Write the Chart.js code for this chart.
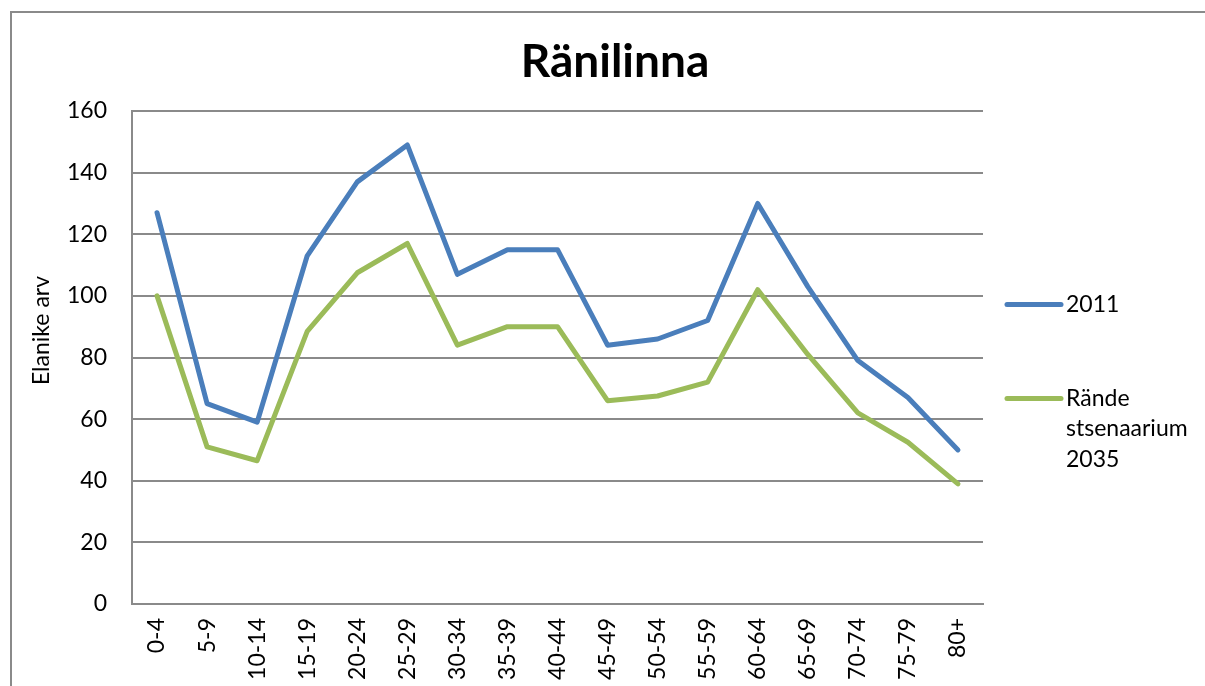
<!DOCTYPE html>
<html>
<head>
<meta charset="utf-8">
<script src="https://cdn.jsdelivr.net/npm/chart.js@4.4.1/dist/chart.umd.min.js"></script>
<style>
  html, body { margin: 0; padding: 0; background: #fff; overflow: hidden; }
  #frame {
    position: absolute; left: 10px; top: 11px;
    width: 1208px; height: 680px;
    border-left: 2px solid #8a8a8a; border-top: 2px solid #8a8a8a;
    box-sizing: border-box;
  }
  #wrap { position: absolute; left: 0; top: 0; width: 1206px; height: 678px; }
</style>
</head>
<body>
<div id="frame"><div id="wrap"><canvas id="chart"></canvas></div></div>
<script>
const ageGroups = ['0-4', '5-9', '10-14', '15-19', '20-24', '25-29', '30-34', '35-39', '40-44',
  '45-49', '50-54', '55-59', '60-64', '65-69', '70-74', '75-79', '80+'];
const pop2011 = [127, 65, 59, 113, 137, 149, 107, 115, 115, 84, 86, 92, 130, 103, 79, 67, 50];
const pop2035 = [100, 51, 46.5, 88.5, 107.5, 117, 84, 90, 90, 66, 67.5, 72, 102, 81, 62, 52.5, 39];
const seriesNames = ['2011', 'Rände stsenaarium 2035'];
const seriesColors = ['#4A7EBB', '#9BBB59'];
const yTicks = [0, 20, 40, 60, 80, 100, 120, 140, 160];
const chartTitle = 'Ränilinna';
const yTitle = 'Elanike arv';

const FONT = 'Lato, "Open Sans", sans-serif';

// title, y-axis title and an Excel-like legend (labels wrapped word by word)
const excelBits = {
  id: 'excelBits',
  afterDraw(chart) {
    const { ctx, chartArea, width } = chart;
    const mid = (chartArea.top + chartArea.bottom) / 2;
    ctx.save();

    ctx.fillStyle = '#000';
    ctx.font = 'bold 46px ' + FONT;
    ctx.textAlign = 'center';
    ctx.textBaseline = 'alphabetic';
    ctx.fillText(chartTitle, width / 2, 64);

    ctx.save();
    ctx.translate(30, mid - 27);
    ctx.rotate(-Math.PI / 2);
    ctx.font = '23px ' + FONT;
    ctx.textBaseline = 'middle';
    ctx.fillText(yTitle, 0, 0);
    ctx.restore();

    const offsets = [-53, 41];
    const x0 = chartArea.right + 24;
    ctx.font = '23px ' + FONT;
    ctx.textAlign = 'left';
    ctx.textBaseline = 'middle';
    chart.data.datasets.forEach((ds, i) => {
      const y = mid + offsets[i];
      ctx.strokeStyle = ds.borderColor;
      ctx.lineWidth = 5;
      ctx.lineCap = 'round';
      ctx.beginPath();
      ctx.moveTo(x0, y);
      ctx.lineTo(x0 + 54, y);
      ctx.stroke();
      const words = ds.label.split(' ');
      const lines = [];
      let cur = '';
      words.forEach(w => {
        const test = cur ? cur + ' ' + w : w;
        if (cur && ctx.measureText(test).width > 130) { lines.push(cur); cur = w; }
        else cur = test;
      });
      lines.push(cur);
      ctx.fillStyle = '#000';
      lines.forEach((ln, j) => ctx.fillText(ln, x0 + 59, y + j * 30.5));
    });
    ctx.restore();
  }
};

new Chart(document.getElementById('chart'), {
  type: 'line',
  data: {
    labels: ageGroups,
    datasets: [
      { label: seriesNames[0], data: pop2011, borderColor: seriesColors[0], backgroundColor: seriesColors[0] },
      { label: seriesNames[1], data: pop2035, borderColor: seriesColors[1], backgroundColor: seriesColors[1] }
    ]
  },
  options: {
    responsive: true,
    maintainAspectRatio: false,
    animation: false,
    layout: { padding: { left: 0, right: 235, top: 98, bottom: 0 } },
    elements: {
      line: { borderWidth: 5, tension: 0, borderCapStyle: 'round', borderJoinStyle: 'round' },
      point: { radius: 0, hoverRadius: 0 }
    },
    plugins: {
      legend: { display: false },
      tooltip: { enabled: false },
      title: { display: false }
    },
    scales: {
      x: {
        type: 'category',
        offset: true,
        grid: { display: false, drawTicks: false },
        border: { display: true, color: '#8a8a8a', width: 2 },
        ticks: {
          color: '#000',
          font: { family: FONT, size: 23 },
          minRotation: 90,
          maxRotation: 90,
          padding: 14,
          autoSkip: false
        },
        afterFit(scale) { scale.height = 87; }
      },
      y: {
        min: 0,
        max: 160,
        afterBuildTicks(scale) { scale.ticks = yTicks.map(v => ({ value: v })); },
        grid: { color: '#8a8a8a', lineWidth: 2, drawTicks: false },
        border: { display: true, color: '#8a8a8a', width: 2 },
        ticks: {
          color: '#000',
          font: { family: FONT, size: 23 },
          padding: 25
        },
        afterFit(scale) { scale.width = 120; }
      }
    }
  },
  plugins: [excelBits]
});
</script>
</body>
</html>
